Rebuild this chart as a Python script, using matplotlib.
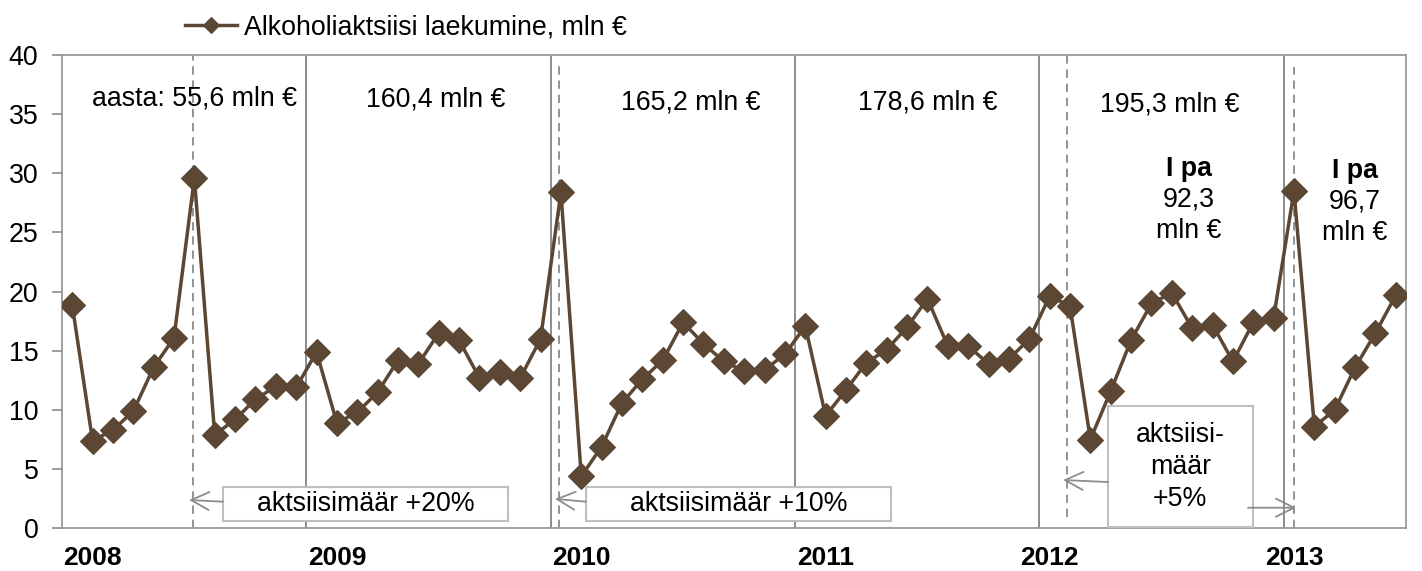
import matplotlib
matplotlib.use("Agg")
import matplotlib.pyplot as plt
from matplotlib.patches import Rectangle

plt.rcParams['font.family'] = ['Liberation Sans', 'DejaVu Sans']

# Monthly alcohol excise receipts, mln EUR (Jan 2008 .. Jun 2013)
values = [18.9, 7.4, 8.3, 9.9, 13.6, 16.1, 29.6, 7.9, 9.2, 10.9, 12.0, 11.9,
          14.9, 8.9, 9.8, 11.5, 14.2, 13.9, 16.5, 15.9, 12.7, 13.2, 12.7, 16.0,
          28.4, 4.4, 6.9, 10.6, 12.6, 14.2, 17.4, 15.6, 14.1, 13.3, 13.4, 14.7,
          17.1, 9.5, 11.7, 14.0, 15.1, 17.0, 19.4, 15.4, 15.4, 13.9, 14.3, 16.0,
          19.6, 18.8, 7.5, 11.6, 15.9, 19.0, 19.9, 16.9, 17.2, 14.1, 17.4, 17.8,
          28.5, 8.6, 10.0, 13.6, 16.5, 19.7]
series_label = "Alkoholiaktsiisi laekumine, mln €"
year_labels = ["2008", "2009", "2010", "2011", "2012", "2013"]
year_label_pos = [1, 13, 25, 37, 48, 60]
year_boundaries = [11.5, 23.5, 35.5, 47.5, 59.5]
rate_change_pos = [5.93, 23.9, 48.85, 60.0]
year_totals = ["aasta: 55,6 mln €", "160,4 mln €", "165,2 mln €", "178,6 mln €", "195,3 mln €"]
year_total_x = [6.03, 17.87, 30.4, 42.03, 53.9]
year_total_y = [36.3, 36.2, 35.95, 35.95, 35.8]
half_year = [("I pa", "92,3\nmln €"), ("I pa", "96,7\nmln €")]
half_year_x = [54.85, 63.0]
yticks = [0, 5, 10, 15, 20, 25, 30, 35, 40]

W, H = 1422, 571
fig = plt.figure(figsize=(W / 100, H / 100), dpi=100)
ax = fig.add_axes([62 / W, 1 - 528.3 / H, (1406 - 62) / W, (528.3 - 55) / H])

FS = 19.3
brown = '#5c4634'
grey = '#8c8c8c'
x = list(range(len(values)))
ax.plot(x, values, color=brown, lw=2.5, marker='D', ms=13.5, mfc=brown, mec=brown,
        mew=0.8, label=series_label, zorder=4)

ax.set_xlim(-0.5, len(values) - 0.5)
ax.set_ylim(0, 40)
ax.set_yticks(yticks)
ax.set_xticks(year_label_pos)
ax.set_xticklabels(year_labels, fontsize=19, fontweight='bold')
ax.tick_params(axis='x', length=0, pad=13)
ax.tick_params(axis='y', length=7, width=1.2, color=grey, labelsize=FS, pad=10)
for s in ax.spines.values():
    s.set_color('#999999')
    s.set_linewidth(1.3)

for b in year_boundaries:
    ax.axvline(b, color=grey, lw=1.4, zorder=1)

dash_ranges = [(0, 1), (0, 0.985), (0.024, 1), (0, 0.975)]
for p, (y0, y1) in zip(rate_change_pos, dash_ranges):
    ax.axvline(p, ymin=y0, ymax=y1, color='#808080', lw=1.2, dashes=(5, 3.5), zorder=1)

for t, tx, ty in zip(year_totals, year_total_x, year_total_y):
    ax.text(tx, ty, t, fontsize=FS, ha='center', va='center', zorder=5)

for (b, rest), hx in zip(half_year, half_year_x):
    dy = 0.17 if hx > 60 else 0
    ax.text(hx, 30.4 - dy, b, fontsize=FS, fontweight='bold',
            ha='center', va='center', zorder=5)
    ax.text(hx, 26.45 - dy, rest, fontsize=FS, ha='center',
            va='center', linespacing=1.27, zorder=5)

box_edge = '#bfbfbf'
boxes = [((7.406, 0.62), 21.4 - 7.406, 3.49 - 0.62, "aktsiisimäär +20%"),
         ((25.23, 0.62), 40.21 - 25.23, 3.49 - 0.62, "aktsiisimäär +10%"),
         ((50.86, 0.13), 57.98 - 50.86, 10.34 - 0.13, "aktsiisi-\nmäär\n+5%")]
for (bx, by), bw, bh, txt in boxes:
    ax.add_patch(Rectangle((bx, by), bw, bh, facecolor='white', edgecolor=box_edge,
                           lw=1.5, zorder=6))
    ax.text(bx + bw / 2, by + bh / 2 + (0.0 if bh < 5 else -0.05), txt, fontsize=FS,
            ha='center', va='center', linespacing=1.28, zorder=7)

arrows = [((7.406, 2.25), (5.74, 2.39)),
          ((25.23, 2.25), (23.71, 2.48)),
          ((50.86, 3.91), (48.66, 4.08)),
          ((57.74, 1.74), (60.1, 1.74))]
for (sx, sy), (ex, ey) in arrows:
    ax.annotate("", xy=(ex, ey), xytext=(sx, sy),
                arrowprops=dict(arrowstyle='->,head_length=1.3,head_width=0.65',
                                mutation_scale=10,
                                color='#8c8c8c', lw=1.3, shrinkA=0, shrinkB=0),
                zorder=8)

leg = ax.legend(loc='center left', bbox_to_anchor=(185 / W, 1 - 27 / H),
                bbox_transform=fig.transFigure, frameon=False, fontsize=FS,
                handlelength=1.95, handletextpad=0.25, borderpad=0, borderaxespad=0)
for h in leg.legend_handles:
    h.set_markersize(8.5)

fig.savefig("out.png", dpi=100)
